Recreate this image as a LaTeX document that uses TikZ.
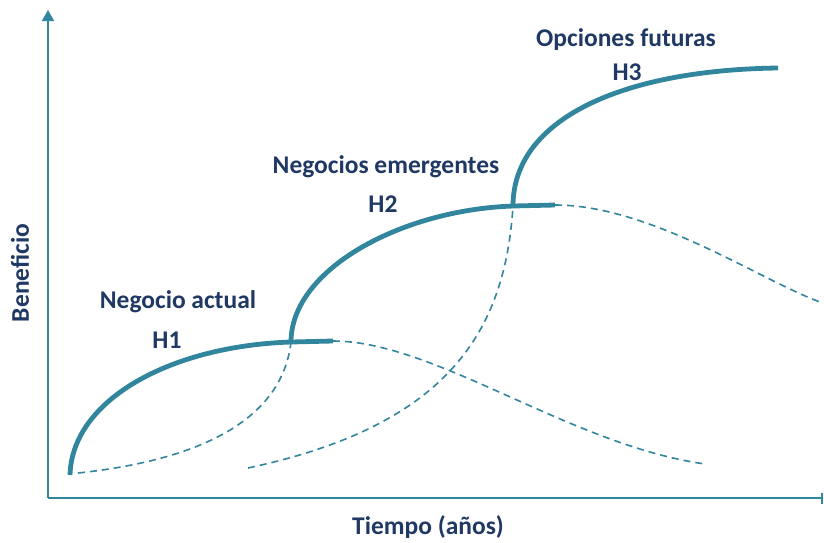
\documentclass[tikz,border=0pt]{standalone}
\usepackage{fontspec}
\setmainfont{Carlito}
\usepackage{tikz}
\usetikzlibrary{arrows.meta}
\usepackage{xcolor}
\definecolor{CurveTeal}{HTML}{31859C}
\definecolor{LabelNavy}{HTML}{1F3864}

\begin{document}
\begin{tikzpicture}[x=1pt,y=-1pt,
   horizon/.style={color=CurveTeal,line width=4.8pt},
   fade/.style={color=CurveTeal,line width=1.6pt,dash pattern=on 7pt off 5pt},
   axisline/.style={color=CurveTeal,line width=1.6pt},
   tag/.style={text=LabelNavy,font=\bfseries\fontsize{25.5}{28}\selectfont,inner sep=0pt}]
   \useasboundingbox (0,0) rectangle (824,542);

   \coordinate (O) at (48,498);
   \coordinate (Ytop) at (48,10);
   \coordinate (Xend) at (823,498);
   \draw[axisline,-{Triangle[length=11pt,width=12pt]}] (O) -- (Ytop);
   \draw[axisline,-{Bar[width=11pt,line width=2.5pt]}] (O) -- (Xend);

   \coordinate (S1) at (70,475);
   \coordinate (J12) at (291,342);
   \coordinate (E1) at (333,341);
   \coordinate (J23) at (513,206);
   \coordinate (E2) at (555,205);
   \coordinate (E3) at (778,68);

   \coordinate (D1s) at (78,473);
   \coordinate (D1e) at (705,464);
   \coordinate (D2s) at (248,468);
   \coordinate (D2e) at (820,302);

   \draw[fade] (D1s) .. controls (200,460) and (282,420) .. (J12);
   \draw[fade] (E1) .. controls (435,341) and (570,445) .. (D1e);
   \draw[fade] (D2s) .. controls (450,425) and (505,330) .. (J23);
   \draw[fade] (E2) .. controls (650,205) and (760,280) .. (D2e);

   \draw[horizon] (S1) .. controls (72,400) and (170,346) .. (J12) -- (E1);
   \draw[horizon] (J12) .. controls (291,270) and (400,210) .. (J23) -- (E2);
   \draw[horizon] (J23) .. controls (513,120) and (620,70) .. (E3);

   \node[tag] (h1name) at (178,302) {Negocio actual};
   \node[tag] (h1) at (167,340) {H1};
   \node[tag] (h2name) at (386,167) {Negocios emergentes};
   \node[tag] (h2) at (383,204) {H2};
   \node[tag] (h3name) at (626,40) {Opciones futuras};
   \node[tag] (h3) at (627,72) {H3};

   \node[tag] (xlabel) at (428,527) {Tiempo (años)};
   \node[tag,rotate=90] (ylabel) at (20,273) {Beneficio};
\end{tikzpicture}
\end{document}
